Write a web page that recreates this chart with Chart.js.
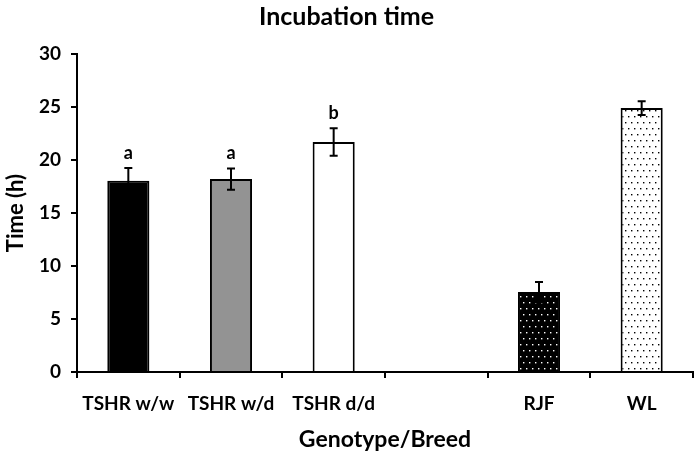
<!DOCTYPE html>
<html>
<head>
<meta charset="utf-8">
<script src="https://cdn.jsdelivr.net/npm/chart.js@4.4.1/dist/chart.umd.min.js"></script>
<style>
  html, body { margin: 0; padding: 0; background: #fff; }
  #wrap { width: 700px; height: 455px; }
</style>
</head>
<body>
<div id="wrap"><canvas id="myChart" width="700" height="455"></canvas></div>
<script>
var categories = ['TSHR w/w', 'TSHR w/d', 'TSHR d/d', '', 'RJF', 'WL'];
var meanTime = [18.05, 18.2, 21.7, null, 7.55, 24.9];
var errTime = [1.2, 1.0, 1.3, null, 0.95, 0.65];
var sigLetters = ['a', 'a', 'b', '', '', ''];
var yTicks = [0, 5, 10, 15, 20, 25, 30];

var FONT = 'Lato, "Open Sans", sans-serif';

// dotted fills for the two breeds
function dots(bg, fg) {
    var c = document.createElement('canvas');
    c.width = 6; c.height = 12;
    var g = c.getContext('2d');
    g.fillStyle = bg;
    g.fillRect(0, 0, 6, 12);
    g.fillStyle = fg;
    g.fillRect(1, 2, 1.4, 1.4);
    g.fillRect(4, 8, 1.4, 1.4);
    return g.createPattern(c, 'repeat');
}

var fills = ['#000000', '#939393', '#ffffff', '#ffffff', dots('#000', '#fff'), dots('#fff', '#000')];

var errorBars = {
    id: 'errorBars',
    afterDatasetsDraw: function (chart) {
        var ctx = chart.ctx;
        var y = chart.scales.y;
        var meta = chart.getDatasetMeta(0);
        ctx.save();
        ctx.strokeStyle = '#000';
        ctx.lineWidth = 2;
        meta.data.forEach(function (bar, i) {
            if (meanTime[i] == null) return;
            var x = bar.x;
            var top = y.getPixelForValue(meanTime[i] + errTime[i]);
            var bot = y.getPixelForValue(meanTime[i] - errTime[i]);
            ctx.beginPath();
            ctx.moveTo(x, top); ctx.lineTo(x, bot);
            ctx.moveTo(x - 4, top); ctx.lineTo(x + 4, top);
            ctx.moveTo(x - 4, bot); ctx.lineTo(x + 4, bot);
            ctx.stroke();
            if (sigLetters[i]) {
                ctx.fillStyle = '#000';
                ctx.font = 'bold 18px ' + FONT;
                ctx.textAlign = 'center';
                ctx.textBaseline = 'middle';
                ctx.fillText(sigLetters[i], x, top - 15);
            }
        });
        ctx.restore();
    }
};

var canvas = document.getElementById('myChart');
new Chart(canvas, {
    type: 'bar',
    data: {
        labels: categories,
        datasets: [{
            data: meanTime,
            backgroundColor: fills,
            borderColor: '#000',
            borderWidth: 2,
            categoryPercentage: 1,
            barPercentage: 0.41
        }]
    },
    options: {
        responsive: false,
        animation: false,
        layout: { padding: { left: 0, right: 7, top: 0, bottom: 0 } },
        plugins: {
            legend: { display: false },
            tooltip: { enabled: false },
            title: {
                display: true,
                text: 'Incubation time',
                color: '#000',
                font: { family: FONT, size: 25, weight: 'bold' },
                padding: { top: 2, bottom: 22 }
            }
        },
        scales: {
            x: {
                grid: { drawOnChartArea: false, color: '#000', lineWidth: 2, tickLength: 6, offset: true },
                border: { color: '#000', width: 2 },
                ticks: { color: '#000', font: { family: FONT, size: 19, weight: 'bold' }, padding: 14, maxRotation: 0, autoSkip: false },
                title: {
                    display: true, text: 'Genotype/Breed', color: '#000',
                    font: { family: FONT, size: 23, weight: 'bold' }, padding: { top: 0, bottom: 2 }
                },
                afterFit: function (s) { s.height = 83; }
            },
            y: {
                min: 0, max: 30,
                afterBuildTicks: function (s) { s.ticks = yTicks.map(function (v) { return { value: v }; }); },
                grid: { drawOnChartArea: false, color: '#000', lineWidth: 2, tickLength: 6 },
                border: { color: '#000', width: 2 },
                ticks: { color: '#000', font: { family: FONT, size: 19, weight: 'bold' }, padding: 10 },
                title: {
                    display: true, text: 'Time (h)', color: '#000',
                    font: { family: FONT, size: 22, weight: 'bold' }, padding: { top: 3, bottom: 0 }
                },
                afterFit: function (s) { s.width = 77; }
            }
        }
    },
    plugins: [errorBars]
});
</script>
</body>
</html>
